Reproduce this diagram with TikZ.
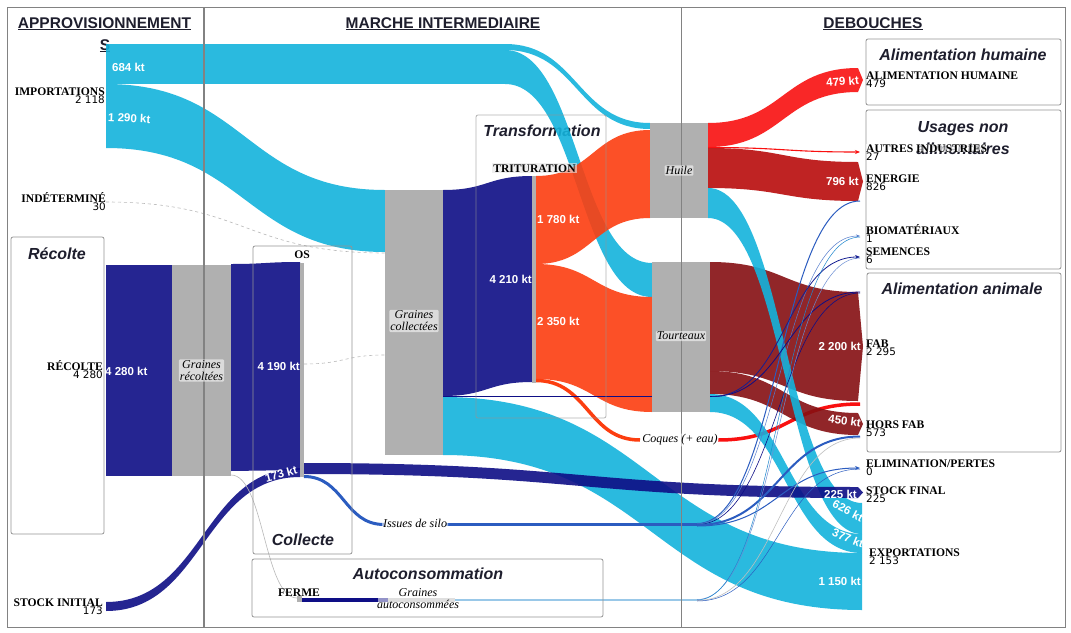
\documentclass[tikz,border=0pt]{standalone}
\usepackage{fontspec}
\setmainfont{Liberation Serif}
\newfontfamily\hsans{Liberation Sans}
\newfontfamily\dvs{DejaVu Sans}
\usetikzlibrary{arrows.meta}
\definecolor{cblue}{RGB}{19,179,220}
\definecolor{cnavy}{RGB}{14,14,134}
\definecolor{cgray}{RGB}{176,176,176}
\definecolor{corange}{RGB}{252,62,16}
\definecolor{cred}{RGB}{249,16,16}
\definecolor{cdred}{RGB}{185,12,12}
\definecolor{cbrown}{RGB}{134,15,18}
\definecolor{csilo}{RGB}{43,92,192}
\definecolor{cframe}{RGB}{130,130,130}
\definecolor{ctitle}{RGB}{30,30,45}
\newcommand\sband[7]{\fill[#7] (#1,#2) .. controls ({(#1+#4)/2},#2) and ({(#1+#4)/2},#5) .. (#4,#5) -- (#4,#6) .. controls ({(#1+#4)/2},#6) and ({(#1+#4)/2},#3) .. (#1,#3) -- cycle;}
\newcommand\sbandt[7]{\fill[#7] (#1,#2) .. controls ({(#1+#4)/2},#2) and ({(#1+#4)/2},#5) .. (#4,#5) -- ({#4+5},{(#5+#6)/2}) -- (#4,#6) .. controls ({(#1+#4)/2},#6) and ({(#1+#4)/2},#3) .. (#1,#3) -- cycle;}
\newcommand\slink[5]{\draw[#5] (#1,#2) .. controls ({(#1+#3)/2},#2) and ({(#1+#3)/2},#4) .. (#3,#4);}
\begin{document}
\begin{tikzpicture}[x=1pt,y=-1pt,
  frame/.style={draw=cframe, line width=1pt},
  subbox/.style={draw=cframe!85, line width=0.8pt, rounded corners=2pt},
  head/.style={font=\hsans\bfseries\fontsize{15.5}{18}\selectfont, text=ctitle, anchor=base, inner sep=0},
  btitle/.style={font=\hsans\bfseries\itshape\fontsize{16}{18}\selectfont, text=ctitle, anchor=base, inner sep=0},
  labr/.style={font=\bfseries\fontsize{11.6}{12}\selectfont, anchor=base west, inner sep=0},
  labl/.style={font=\bfseries\fontsize{11.6}{12}\selectfont, anchor=base east, inner sep=0},
  numr/.style={font=\dvs\fontsize{10.4}{11}\selectfont, anchor=base west, inner sep=0},
  numl/.style={font=\dvs\fontsize{10.4}{11}\selectfont, anchor=base east, inner sep=0},
  blab/.style={font=\hsans\bfseries\fontsize{11.5}{12}\selectfont, text=white, inner sep=0},
  glab/.style={font=\itshape\fontsize{12}{12}\selectfont, fill=white, fill opacity=0.55, text opacity=1, rounded corners=1pt, inner sep=1pt, align=center},
  gbar/.style={fill=cgray, draw=none, inner sep=0, outer sep=0},
  bblue/.style={fill=cblue, fill opacity=0.9},
  bnavy/.style={fill=cnavy, fill opacity=0.9},
  borange/.style={fill=corange, fill opacity=0.9},
  bred/.style={fill=cred, fill opacity=0.9},
  bdred/.style={fill=cdred, fill opacity=0.9},
  bbrown/.style={fill=cbrown, fill opacity=0.9}]
\useasboundingbox (0,0) rectangle (1071,632);
\fill[white] (0,0) rectangle (1071,632);

% ---- headers and box titles
\node[head] (h1) at (104.5,28) {\underline{APPROVISIONNEMENT}};
\node[head] (h1b) at (105,50) {\underline{S}};
\node[head] (h2) at (443,28) {\underline{MARCHE INTERMEDIAIRE}};
\node[head] (h3) at (873,28) {\underline{DEBOUCHES}};
\node[btitle] (tRec) at (57,259) {Récolte};
\node[btitle] (tCol) at (303,545) {Collecte};
\node[btitle] (tAuto) at (428,579) {Autoconsommation};
\node[btitle] (tTrans) at (542,136) {Transformation};
\node[btitle] (tAH) at (963,60) {Alimentation humaine};
\node[btitle] (tUN1) at (963,132) {Usages non};
\node[btitle] (tUN2) at (963,154) {alimentaires};
\node[btitle] (tAA) at (962,294) {Alimentation animale};

% ---- imports
\fill[bblue] (106,44) rectangle (505,84);
\sband{505}{44}{50}{650}{123}{129}{bblue}
\sband{505}{50}{84}{652}{263}{297}{bblue}
\sband{106}{84}{148}{385}{190}{252}{bblue}

% ---- trituration outputs
\sband{536}{176}{264}{650}{130}{218}{borange}
\sband{536}{264}{379}{652}{297}{412}{borange}

% ---- navy flows
\fill[bnavy] (106,265) rectangle (172,476);
\sband{231}{264}{471}{300}{262}{470}{bnavy}
\sband{443}{190}{396}{532}{176}{382}{bnavy}
\sband{106}{602}{611}{300}{468}{477}{bnavy}

% ---- coques
\slink{536}{380.5}{640}{440}{corange, line width=3.5}
\slink{718}{440}{860}{404}{cred, line width=3.5}

% ---- huile / tourteaux outputs
\sbandt{710}{262}{371}{858}{292}{401}{bbrown}
\sbandt{710}{371}{394}{858}{413}{435}{bbrown}
\sbandt{708}{123}{147}{858}{68}{92}{bred}
\slink{708}{147.5}{860}{152}{cred, line width=1.1, -{Stealth[length=5pt,width=4pt]}}
\sbandt{708}{148}{188}{858}{162}{201}{bdred}

% ---- exports
\sband{443}{397}{455}{862}{553}{610}{bblue}
\sband{710}{394}{412}{862}{534}{553}{bblue}
\sband{708}{188}{218}{862}{503}{534}{bblue}

% ---- stock final
\sbandt{304}{463}{474}{858}{487}{498}{bnavy}

% ---- issues de silo
\slink{304}{476.5}{384}{524.5}{csilo, line width=3}
\draw[csilo, line width=3] (446,524.5) -- (697,524.5);
\slink{697}{523.5}{860}{201}{csilo, line width=1}
\slink{697}{524}{860}{236}{csilo!80, line width=0.5, -{Stealth[length=4pt,width=3pt]}}
\slink{697}{524.5}{860}{293}{cnavy, line width=0.6}
\slink{697}{525}{860}{436.5}{csilo, line width=2}
\slink{697}{526}{860}{468}{csilo, line width=1, -{Stealth[length=5pt,width=4pt]}}

% ---- graines collectees thin flow
\draw[cnavy, line width=0.8] (443,396.5) -- (712,396.5);
\slink{712}{396.5}{860}{292}{cnavy, line width=0.8}
\slink{712}{396.5}{860}{257}{cnavy!80!csilo, line width=0.8, -{Stealth[length=5pt,width=4pt]}}

% ---- autoconsommation
\fill[cnavy] (302,598) rectangle (378,602);
\fill[cnavy!45] (378,598) rectangle (388,602);
\draw[cblue!50!csilo, line width=2, opacity=0.45] (455,600) -- (697,600);
\slink{697}{599.5}{860}{258}{csilo!70, line width=0.5}
\slink{697}{600}{860}{237}{cblue!50!csilo, line width=0.5}
\slink{697}{600.5}{860}{438}{gray!50, line width=0.6}
\slink{697}{601}{860}{469}{csilo, line width=0.5}

% ---- grey links
\slink{106}{202}{385}{253}{gray!55, line width=0.6, dashed}
\slink{304}{364}{385}{355}{gray!55, line width=0.6, dashed}
\slink{231}{475}{297}{598}{gray!55, line width=0.6}

% ---- grey nodes
\node[gbar, minimum width=59pt, minimum height=211pt] (grec) at (201.5,370.5) {};
\node[gbar, minimum width=4pt, minimum height=214pt] (os) at (302,370) {};
\node[gbar, minimum width=58pt, minimum height=265pt] (gcol) at (414,322.5) {};
\node[gbar, minimum width=4pt, minimum height=207pt] (trit) at (534,279.5) {};
\node[gbar, minimum width=58pt, minimum height=95pt] (huile) at (679,170.5) {};
\node[gbar, minimum width=58pt, minimum height=150pt] (tourt) at (681,337) {};
\node[gbar, minimum width=5pt, minimum height=6pt] (ferme) at (299.5,599) {};
\node[gbar, fill=gray!25, minimum width=67pt, minimum height=4pt] (gauto) at (421.5,600) {};

% ---- frames (on top, like the reference)
\draw[frame] (7,7) rectangle (203,627);
\draw[frame] (204,7) rectangle (681,627);
\draw[frame] (681,7) rectangle (1065,627);
\draw[subbox] (11,237) rectangle (104,534);
\draw[subbox] (253,246) rectangle (352,554);
\draw[subbox] (252,559) rectangle (603,617);
\draw[subbox, draw opacity=0.7] (476,115) rectangle (606,418);
\draw[subbox] (866,39) rectangle (1061,105);
\draw[subbox] (866,110) rectangle (1061,269);
\draw[subbox] (867,273) rectangle (1061,452);

% ---- grey node labels
\node[glab] at (grec) {Graines\\récoltées};
\node[glab] at (414,321) {Graines\\collectées};
\node[glab] at (huile) {Huile};
\node[glab] at (681,336) {Tourteaux};
\node[glab] at (415,523) {Issues de silo};
\node[glab] at (680,440) {Coques (+ eau)};
\node[glab, fill opacity=0] at (418,599) {Graines\\autoconsommées};
\node[labr, anchor=base, fill=white!80!gray, fill opacity=0.6, text opacity=1, inner sep=1pt] at (534.5,172) {TRITURATION};
\node[labr, anchor=base] at (302,258) {OS};
\node[labr, anchor=base] at (299,596) {FERME};

% ---- left labels
\node[labl] (lImp) at (105,95) {IMPORTATIONS};
\node[numl] at (105,103) {2 118};
\node[labl] (lInd) at (106,202) {INDÉTERMINÉ};
\node[numl] at (106,210) {30};
\node[labl] (lRec) at (103,370) {RÉCOLTE};
\node[numl] at (103,378) {4 280};
\node[labl] (lSI) at (103,606) {STOCK INITIAL};
\node[numl] at (103,614) {173};

% ---- right labels
\node[labr] (rAH) at (866,79) {ALIMENTATION HUMAINE};
\node[numr] at (866,87) {479};
\node[labr, fill=white, fill opacity=0.7, text opacity=1] (rAI) at (866,152) {AUTRES INDUSTRIES};
\node[numr] at (866,160) {27};
\node[labr] (rEn) at (866,182) {ENERGIE};
\node[numr] at (866,190) {826};
\node[labr] (rBio) at (866,234) {BIOMATÉRIAUX};
\node[numr] at (866,242) {1};
\node[labr] (rSem) at (866,255) {SEMENCES};
\node[numr] at (866,263) {6};
\node[labr] (rFab) at (866,347) {FAB};
\node[numr] at (866,355) {2 295};
\node[labr] (rHF) at (866,428) {HORS FAB};
\node[numr] at (866,436) {573};
\node[labr] (rEl) at (866,467) {ELIMINATION/PERTES};
\node[numr] at (866,475) {0};
\node[labr] (rSF) at (866,494) {STOCK FINAL};
\node[numr] at (866,502) {225};
\node[labr] (rEx) at (869,556) {EXPORTATIONS};
\node[numr] at (869,564) {2 153};

% ---- band values
\node[blab, anchor=west] at (112,67) {684 kt};
\node[blab, anchor=west, rotate=-3] at (108,117) {1 290 kt};
\node[blab, anchor=west] at (105,371) {4 280 kt};
\node[blab, anchor=east] at (300,366) {4 190 kt};
\node[blab, rotate=15] at (281,474) {173 kt};
\node[blab, anchor=east] at (532,279) {4 210 kt};
\node[blab, anchor=west] at (537,219) {1 780 kt};
\node[blab, anchor=west] at (537,321) {2 350 kt};
\node[blab, anchor=east, rotate=5] at (859,80) {479 kt};
\node[blab, anchor=east] at (859,181) {796 kt};
\node[blab, anchor=east] at (861,346) {2 200 kt};
\node[blab, anchor=east, rotate=-8] at (861,423) {450 kt};
\node[blab, anchor=east] at (857,494) {225 kt};
\node[blab, rotate=-28] at (848,511) {626 kt};
\node[blab, rotate=-22] at (848,538) {377 kt};
\node[blab, anchor=east] at (861,581) {1 150 kt};
\end{tikzpicture}
\end{document}
